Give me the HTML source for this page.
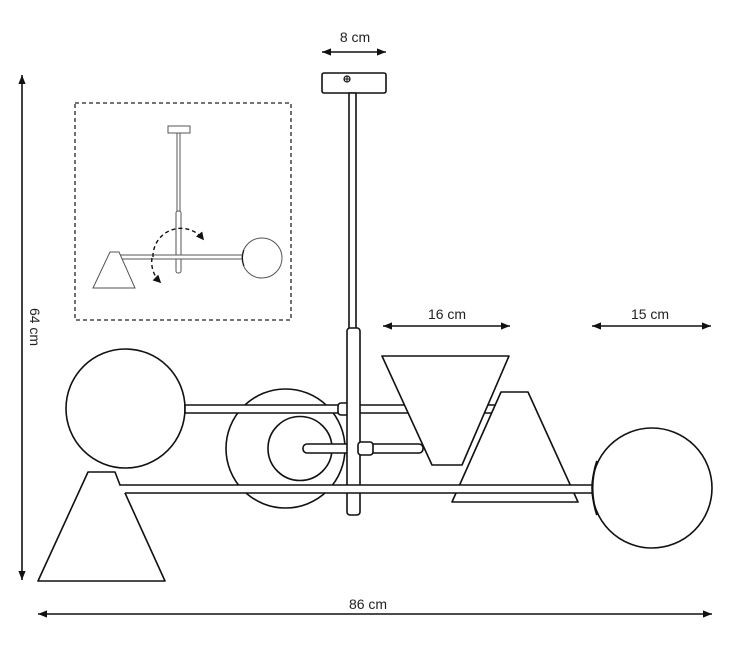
<!DOCTYPE html>
<html><head><meta charset="utf-8"><style>html,body{margin:0;padding:0;background:#fff}svg{display:block}</style></head>
<body>
<svg width="750" height="661" viewBox="0 0 750 661" xmlns="http://www.w3.org/2000/svg" font-family="Liberation Sans, sans-serif">
<defs>
<marker id="ah" viewBox="0 0 10 10" refX="10" refY="5" markerWidth="12" markerHeight="9" orient="auto-start-reverse" markerUnits="userSpaceOnUse"><path d="M0,1 L10,5 L0,9 Z" fill="#111"/></marker>
<marker id="sa" viewBox="0 0 10 10" refX="8" refY="5" markerWidth="8" markerHeight="8" orient="auto" markerUnits="userSpaceOnUse"><path d="M0,0 L10,5 L0,10 Z" fill="#111"/></marker>
</defs>
<g stroke="#111" stroke-width="1.6" fill="none">
<line x1="322" y1="52" x2="386" y2="52" marker-start="url(#ah)" marker-end="url(#ah)"/>
<line x1="22" y1="75" x2="22" y2="580" marker-start="url(#ah)" marker-end="url(#ah)"/>
<line x1="38" y1="614" x2="712" y2="614" marker-start="url(#ah)" marker-end="url(#ah)"/>
<line x1="383" y1="326" x2="510" y2="326" marker-start="url(#ah)" marker-end="url(#ah)"/>
<line x1="592" y1="326" x2="711" y2="326" marker-start="url(#ah)" marker-end="url(#ah)"/>
</g>
<g fill="#222" font-size="14" text-anchor="middle">
<text x="355" y="42">8 cm</text>
<text x="447" y="319">16 cm</text>
<text x="650" y="319">15 cm</text>
<text x="368" y="609">86 cm</text>
<text transform="translate(30,327) rotate(90)">64 cm</text>
</g>

<rect x="75" y="103" width="216" height="217" fill="none" stroke="#222" stroke-width="1.3" stroke-dasharray="4,3"/>
<g stroke="#555" stroke-width="1" fill="#fff">
<rect x="168" y="126" width="22" height="7"/>
<rect x="177" y="133" width="3" height="79"/>
<rect x="176" y="211" width="5" height="62" rx="2"/>
<rect x="120" y="255" width="123" height="4"/>
<path d="M110,252 L119,252 L135,288 L93,288 Z"/>
<circle cx="262" cy="258" r="20"/>
<path d="M244,250 Q241,258 244,266" fill="none" stroke="#111"/>
</g>
<g stroke="#111" stroke-width="1.4" fill="none" stroke-dasharray="4,3">
<path d="M153,257 A28,28 0 0 1 203,239" marker-end="url(#sa)"/>
<path d="M152,258 A28,28 0 0 0 160,282" marker-end="url(#sa)"/>
</g>

<g stroke="#111" stroke-width="1.6" fill="#fff" stroke-linejoin="round">
<rect x="322" y="73" width="64" height="20" rx="2"/>
<circle cx="347" cy="79" r="3" fill="none" stroke-width="1.2"/>
<path d="M344,79 H350 M347,76 V82" stroke-width="1"/>
<rect x="349" y="93" width="7" height="236"/>
<circle cx="285.5" cy="448.5" r="59.5"/>
<circle cx="300" cy="448.5" r="32"/>
<circle cx="125.5" cy="408.5" r="59.5"/>
<rect x="185" y="405" width="312" height="8"/>
<rect x="338" y="403" width="12" height="12" rx="3"/>
<rect x="303" y="444" width="120" height="9" rx="4"/>
<rect x="347" y="328" width="13" height="187" rx="3"/>
<rect x="358" y="442" width="15" height="13" rx="3"/>
<path d="M501,392 L528,392 L578,502 L452,502 Z"/>
<path d="M382,356 L509,356 L462,465 L432,465 Z"/>
<path d="M88,472 L115,472 L120,485 L125,493 L165,581 L38,581 Z"/>
<rect x="120" y="485" width="472" height="8" stroke="none"/>
<line x1="120" y1="485" x2="592" y2="485"/>
<line x1="125" y1="493" x2="592" y2="493"/>
<circle cx="652" cy="488" r="60"/>
<path d="M597,461 Q588,488 597,515" fill="none" stroke-width="2"/>
</g>
</svg>
</body></html>
